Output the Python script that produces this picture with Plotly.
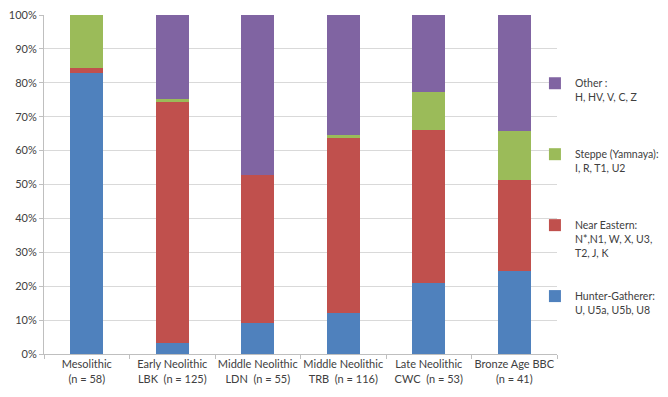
import plotly.graph_objects as go

categories = ["Mesolithic<br>(n = 58)", "Early Neolithic<br>LBK  (n = 125)", "Middle Neolithic<br>LDN  (n = 55)",
              "Middle Neolithic<br>TRB  (n = 116)", "Late Neolithic<br>CWC  (n = 53)", "Bronze Age BBC<br>(n = 41)"]
hunter_gatherer = [82.8, 3.2, 9.1, 12.1, 20.8, 24.4]
near_eastern = [1.7, 71.2, 43.6, 51.7, 45.3, 26.8]
steppe = [15.5, 0.8, 0.0, 0.9, 11.3, 14.6]
other = [0.0, 24.8, 47.3, 35.3, 22.6, 34.1]

series = [
    ("Hunter-Gatherer:<br>U, U5a, U5b, U8<br> ", hunter_gatherer, "#4F81BD", 4),
    ("Near Eastern:<br>N*,N1, W, X, U3,<br>T2, J, K", near_eastern, "#C0504D", 3),
    ("Steppe (Yamnaya):<br>I, R, T1, U2<br> ", steppe, "#9BBB59", 2),
    ("Other :<br>H, HV, V, C, Z<br> ", other, "#8064A2", 1),
]

fig = go.Figure()
for i, (name, vals, color, rank) in enumerate(series):
    fig.add_trace(go.Bar(x=categories, y=vals, name=name, marker=dict(color=color, line=dict(width=0)),
                         legendgroup=str(i), legendrank=rank))

font = "Lato, 'Open Sans', sans-serif"
# page body has an 8px margin, so the figure is sized to fit the 668x397 window
fig.update_layout(
    width=660, height=389,
    barmode="stack", bargap=0.61,
    margin=dict(l=36, r=111, t=7, b=43, autoexpand=False),
    paper_bgcolor="white", plot_bgcolor="white",
    font=dict(family=font, size=11, color="#404040"),
    legend=dict(x=0.957, xanchor="left", y=0.838, yanchor="top", traceorder="grouped",
                tracegroupgap=27, valign="top", font=dict(size=10.5, color="#404040"),
                itemwidth=30, bgcolor="rgba(0,0,0,0)", borderwidth=0),
    showlegend=True,
)
fig.update_yaxes(range=[0, 100], dtick=10, ticksuffix="%", showgrid=True, gridcolor="#D9D9D9",
                 showline=True, linecolor="#BFBFBF", ticks="outside", ticklen=4, tickcolor="#BFBFBF",
                 zeroline=False, tickfont=dict(size=11), automargin=False, ticklabeloverflow="allow")
fig.update_xaxes(showline=True, linecolor="#BFBFBF", ticks="outside", ticklen=4, tickcolor="#BFBFBF",
                 tickson="boundaries", tickangle=0, tickfont=dict(size=11), automargin=False,
                 ticklabeloverflow="allow")
fig.write_html("out.html")
